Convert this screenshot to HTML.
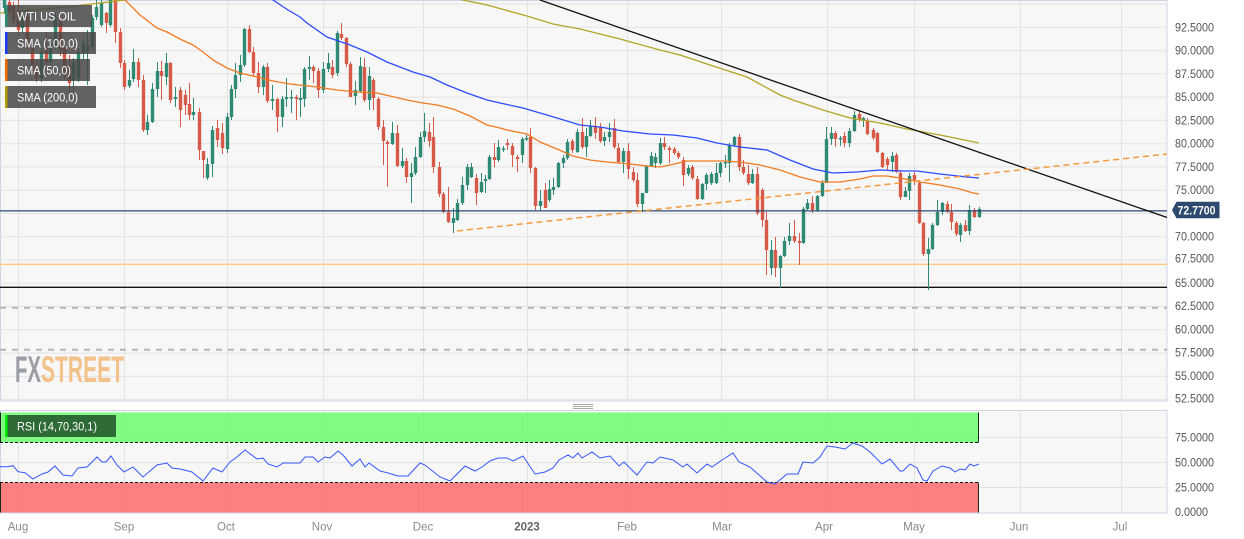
<!DOCTYPE html>
<html><head><meta charset="utf-8"><style>
html,body{margin:0;padding:0;background:#fff;width:1244px;height:539px;overflow:hidden}
svg{display:block;font-family:"Liberation Sans",sans-serif}
</style></head><body>
<svg width="1244" height="539" viewBox="0 0 1244 539" xmlns="http://www.w3.org/2000/svg">
<defs>
<clipPath id="cm"><rect x="0" y="0" width="1167" height="401"/></clipPath>
<clipPath id="cr"><rect x="0" y="410" width="1167" height="103"/></clipPath>
</defs>
<rect x="0" y="0" width="1244" height="539" fill="#fff"/>
<!-- main panel -->
<rect x="0.5" y="0.5" width="1166.5" height="400.5" fill="#f7f7f7" stroke="#d0d3e4"/>
<g stroke="#e3e3e3" stroke-width="1">
<path d="M0 4H1167M0 27.3H1167M0 50.6H1167M0 73.8H1167M0 97.1H1167M0 120.4H1167M0 143.7H1167M0 166.9H1167M0 190.2H1167M0 213.5H1167M0 236.7H1167M0 260H1167M0 283.3H1167M0 306.5H1167M0 329.8H1167M0 353.1H1167M0 376.4H1167M0 399.6H1167"/>
<path d="M18.5 0V401M124.5 0V401M227.5 0V401M323.5 0V401M423.5 0V401M527.5 0V401M627.5 0V401M721.5 0V401M827.5 0V401M914.5 0V401M1020.5 0V401M1121.5 0V401"/>
</g>
<!-- logo -->
<text x="15" y="382" font-size="37.5" font-weight="bold" fill="#9b9ea6" textLength="26" lengthAdjust="spacingAndGlyphs">FX</text>
<text x="41" y="382" font-size="37.5" font-weight="bold" fill="#f3c18a" textLength="83" lengthAdjust="spacingAndGlyphs">STREET</text>
<g clip-path="url(#cm)">
<!-- horizontal levels -->
<path d="M0 264.3H1167" stroke="#ffcb7a" stroke-width="1.3"/>
<path d="M0 287.3H1167" stroke="#111" stroke-width="1.3"/>
<path d="M0 307.7H1167M0 349.7H1167" stroke="#b5b5b5" stroke-width="2" stroke-dasharray="6 6"/>
<!-- candles green -->
<path fill="none" stroke="#2f8a73" stroke-width="1" d="M4.5 0V14M22.5 8V33M41.5 48V82M50.5 36V70M55.5 12V50M73.5 58V93M78.5 48V82M83.5 38V60M87.5 30V85M92.5 15V50M96.5 0V20M101.5 0V27M110.5 0V27M129.5 70V88M133.5 49V82M147.5 115V135M152.5 83V123M157.5 62V97M166.5 53V85M175.5 87V107M193.5 98V120M207.5 158V180M212.5 126V177M227.5 113V153M231.5 85V120M235.5 63V98M240.5 55V82M244.5 28V67M263.5 65V95M272.5 85V110M282.5 96V127M286.5 78V107M291.5 90V113M300.5 88V117M304.5 67V107M309.5 56V80M323.5 62V93M328.5 53V72M337.5 31V76M355.5 81V105M360.5 57V93M369.5 67V110M392.5 122V145M402.5 148V168M411.5 163V203M415.5 147V175M420.5 132V158M424.5 113V142M453.5 208V233M457.5 199V221M462.5 177V205M467.5 164V190M471.5 163V178M481.5 173V193M485.5 175V193M489.5 155V180M498.5 140V162M503.5 146V152M522.5 137V163M526.5 135V141M540.5 190V211M549.5 180V202M553.5 178V195M558.5 162V188M563.5 155V168M567.5 139V160M577.5 129V153M586.5 128V157M590.5 120V137M604.5 132V146M609.5 123V142M623.5 148V173M642.5 193V212M646.5 165V193M651.5 152V167M655.5 153V168M660.5 138V165M688.5 165V176M702.5 183V200M706.5 173V190M711.5 172V185M716.5 163V184M720.5 162V177M725.5 155V168M729.5 143V182M734.5 136V147M752.5 169V184M771.5 240V275M780.5 255V288M784.5 237V257M789.5 223V245M803.5 207V244M807.5 199V210M817.5 195V212M822.5 180V197M826.5 127V183M831.5 127V145M840.5 136V146M849.5 128V147M854.5 111V132M863.5 117V127M892.5 152V172M905.5 187V197M909.5 173V200M928.5 238V290M932.5 223V250M937.5 200V226M942.5 202V215M960.5 223V242M969.5 205V235M979.5 207V218"/>
<path fill="none" stroke="#2f8a73" stroke-width="3.4" d="M4.5 0V8M22.5 14V28M41.5 52V78M50.5 43V62M55.5 17V45M73.5 62V80M78.5 52V79M83.5 43V53M87.5 45V52M92.5 18V47M96.5 7V17M101.5 3V25M110.5 0V25M129.5 80V86M133.5 62V79M147.5 122V130M152.5 89V122M157.5 71V89M166.5 63V77M175.5 97V99M193.5 112V115M207.5 164V178M212.5 130V164M227.5 117V149M231.5 89V117M235.5 75V89M240.5 65V75M244.5 29V65M263.5 67V87M272.5 99V101M282.5 99V117M286.5 97V99M291.5 97V98.5M300.5 98V100M304.5 69V99M309.5 67V69M323.5 69V90M328.5 63V69M337.5 33V73M355.5 90V96M360.5 66V91M369.5 76V100M392.5 133V144M402.5 161V166M411.5 173V177M415.5 157V173M420.5 137V157M424.5 131V137M453.5 218V223M457.5 203V220M462.5 185V203M467.5 167V185M471.5 167V177M481.5 182V192M485.5 179V181M489.5 157V179M498.5 147V160M503.5 148.5V150M522.5 139V155M526.5 138V139.5M540.5 201V206M549.5 189V200M553.5 187V190M558.5 163V187M563.5 158V163M567.5 142V158M577.5 132V152M586.5 136V147M590.5 126V136M604.5 137V141M609.5 132V137M623.5 151V162M642.5 193V204M646.5 166V193M651.5 156V166M655.5 157V163M660.5 143V163M688.5 168V174M702.5 184V199M706.5 175V184M711.5 174V183M716.5 173V183M720.5 163V173M725.5 162V163.5M729.5 145V163M734.5 137V145M752.5 174V183M771.5 250V268M780.5 256V268M784.5 241V256M789.5 236V241M803.5 209V243M807.5 203V209M817.5 196V210M822.5 183V196M826.5 139V183M831.5 133V139M840.5 138V139.5M849.5 131V143M854.5 115V131M863.5 118V121M892.5 156V162M905.5 191V197M909.5 176V191M928.5 249V254M932.5 225V249M937.5 212V225M942.5 203V212M960.5 225V235M969.5 210V231M979.5 209V217"/>
<!-- candles red -->
<path fill="none" stroke="#d65a47" stroke-width="1" d="M9.5 0V16M13.5 2V24M18.5 0V35M27.5 10V50M32.5 40V74M36.5 60V82M46.5 32V68M60.5 15V56M64.5 42V80M69.5 55V92M106.5 12V33M115.5 0V43M120.5 28V68M124.5 60V90M138.5 58V87M143.5 75V132M161.5 61V100M170.5 62V103M180.5 87V127M185.5 90V115M189.5 83V120M199.5 108V160M203.5 151V178M217.5 120V147M222.5 123V154M249.5 25V53M253.5 47V77M258.5 62V93M267.5 63V103M277.5 98V132M296.5 95V120M313.5 65V83M318.5 68V98M332.5 60V78M341.5 23V40M346.5 37V67M350.5 62V97M364.5 58V102M373.5 78V110M378.5 97V130M383.5 120V165M387.5 140V187M397.5 125V167M406.5 158V183M429.5 123V147M433.5 117V173M439.5 162V197M443.5 192V213M448.5 187V223M476.5 174V205M494.5 143V167M507.5 139V150M512.5 143V167M517.5 155V172M530.5 128V173M535.5 167V210M545.5 183V208M572.5 139V153M582.5 118V149M595.5 117V139M600.5 123V143M614.5 119V149M618.5 143V163M628.5 143V179M633.5 167V182M637.5 173V207M664.5 137V150M669.5 146V163M674.5 147V155M678.5 151V159M683.5 157V186M692.5 165V180M697.5 176V200M739.5 134V171M743.5 160V175M748.5 165V185M757.5 167V215M762.5 188V227M766.5 212V275M775.5 237V277M794.5 220V243M799.5 233V265M812.5 196V213M835.5 131V147M844.5 132V147M859.5 111V122M867.5 118V135M873.5 128V140M877.5 132V153M882.5 152V168M887.5 157V170M896.5 153V173M900.5 170V200M914.5 172V185M919.5 181V224M923.5 222V256M947.5 201V213M951.5 204V230M956.5 221V236M965.5 220V232M974.5 208V218"/>
<path fill="none" stroke="#d65a47" stroke-width="3.4" d="M9.5 2V12M13.5 6V20M18.5 12V30M27.5 16V45M32.5 45V70M36.5 66V78M46.5 48V62M60.5 20V50M64.5 48V76M69.5 65V83M106.5 13V23M115.5 0V32M120.5 32V63M124.5 63V87M138.5 62V80M143.5 80V130M161.5 71V76M170.5 63V100M180.5 90V110M185.5 95V105M189.5 104V115M199.5 112V150M203.5 151V160M217.5 128V140M222.5 133V148M249.5 29V52M253.5 52V73M258.5 73V87M267.5 67V101M277.5 99V117M296.5 97V99M313.5 67V71M318.5 71V90M332.5 67V75M341.5 34V38M346.5 38V64M350.5 64V97M364.5 67V100M373.5 80V98M378.5 99V127M383.5 127V141M387.5 142V144M397.5 133V166M406.5 161V177M429.5 132V141M433.5 137V167M439.5 167V194M443.5 194V212M448.5 212V222M476.5 178V193M494.5 157V160M507.5 143V145M512.5 146V155M517.5 157V159M530.5 137V168M535.5 168V206M545.5 190V208M572.5 141V150M582.5 132V147M595.5 127V133M600.5 127V141M614.5 128V147M618.5 148V162M628.5 151V169M633.5 172V180M637.5 180V204M664.5 143V147M669.5 148V150M674.5 149V153M678.5 153V157M683.5 160V175M692.5 167V178M697.5 179V199M739.5 137V167M743.5 167V173M748.5 174V183M757.5 174V213M762.5 190V220M766.5 220V250M775.5 250V268M794.5 236V241M799.5 241V243M812.5 203V210M835.5 133V139M844.5 136V143M859.5 114V120M867.5 121V134M873.5 130V138M877.5 133V152M882.5 153V167M887.5 159V165M896.5 155V172M900.5 173V197M914.5 175V180M919.5 183V223M923.5 223V254M947.5 204V212M951.5 212V222M956.5 223V234M965.5 225V231M974.5 210V217"/>
<!-- price line -->
<path d="M0 210.9H1167" stroke="#2c4874" stroke-width="1.3"/>
<!-- SMA lines -->
<polyline fill="none" stroke="#b3a424" stroke-width="1.3" points="0,13 33,10 67,7 100,3 125,0 160,-8"/>
<polyline fill="none" stroke="#b3a424" stroke-width="1.3" points="440,-6 463,0 487,5 527,16 553,24 580,29 620,39 660,50 680,55 713,66 747,77 780,95 793,100 823,110 850,118 880,123 907,129 940,135 979,143"/>
<polyline fill="none" stroke="#2b4cff" stroke-width="1.3" points="265,-5 273,0 288,10 300,17 307,23 327,37 350,45 367,52 387,62 413,72 430,77 447,85 467,93 487,100 500,103 523,108 557,118 580,125 600,127 623,131 650,134 673,135 697,138 717,143 740,147 767,150 790,160 813,169 833,173 857,172 880,170 900,171 917,171 940,174 967,177 979,178"/>
<polyline fill="none" stroke="#f27a1f" stroke-width="1.3" points="118,-7 125,0 140,15 157,28 167,32 180,39 193,45 203,52 213,60 227,68 240,73 253,76 273,81 290,84 317,87 337,90 357,92 377,93 390,96 407,100 423,103 437,105 453,109 470,116 487,125 500,128 507,130 527,134 540,142 557,149 573,156 590,160 607,162 630,164 647,166 660,167 670,165 687,161 707,161 723,161 740,162 760,165 780,170 800,177 820,182 840,182 860,179 873,176 887,176 900,178 920,182 940,185 960,189 973,193 979,194"/>
<!-- trendlines -->
<path d="M540 0L1167 217.5" stroke="#111" stroke-width="1.3"/>
<path d="M457 231L1167 154" stroke="#f79a3e" stroke-width="1.5" stroke-dasharray="6 4"/>
</g>
<!-- legends -->
<rect x="5" y="5" width="87" height="22" fill="rgba(72,72,72,0.85)"/>
<rect x="5" y="5" width="2.5" height="22" fill="#2f8a73"/>
<text x="17" y="20.5" font-size="11.5" fill="#fff" textLength="59" lengthAdjust="spacingAndGlyphs">WTI US OIL</text>
<rect x="5" y="32" width="91" height="22" fill="rgba(72,72,72,0.85)"/>
<rect x="5" y="32" width="2.5" height="22" fill="#1a3cff"/>
<text x="17" y="47.5" font-size="11.5" fill="#fff" textLength="61" lengthAdjust="spacingAndGlyphs">SMA (100,0)</text>
<rect x="5" y="59" width="85" height="22" fill="rgba(72,72,72,0.85)"/>
<rect x="5" y="59" width="2.5" height="22" fill="#f06a00"/>
<text x="17" y="74.5" font-size="11.5" fill="#fff" textLength="54" lengthAdjust="spacingAndGlyphs">SMA (50,0)</text>
<rect x="5" y="86" width="91" height="22" fill="rgba(72,72,72,0.85)"/>
<rect x="5" y="86" width="2.5" height="22" fill="#b09a00"/>
<text x="17" y="101.5" font-size="11.5" fill="#fff" textLength="61" lengthAdjust="spacingAndGlyphs">SMA (200,0)</text>
<!-- separator handle -->
<path d="M573 404.5H593M573 406.5H593M573 408.5H593" stroke="#8a8a8a" stroke-width="0.8"/>
<!-- RSI panel -->
<rect x="0.5" y="410.5" width="1166.5" height="102.5" fill="#f7f7f7" stroke="#d0d3e4"/>
<g stroke="#e3e3e3" stroke-width="1">
<path d="M0 437.5H1167M0 462.5H1167M0 487.5H1167"/>
<path d="M18.5 411V513M124.5 411V513M227.5 411V513M323.5 411V513M423.5 411V513M527.5 411V513M627.5 411V513M721.5 411V513M827.5 411V513M914.5 411V513M1020.5 411V513M1121.5 411V513"/>
</g>
<g clip-path="url(#cr)">
<rect x="0" y="412.5" width="979" height="30" fill="#6cfb6c" fill-opacity="0.85"/>
<rect x="0" y="482.5" width="979" height="30" fill="#fd6b6b" fill-opacity="0.85"/>
<path d="M0.5 412.5V442.5M978.5 412.5V442.5M0.5 482.5V512.5M978.5 482.5V512.5" stroke="#1a2a1a" stroke-width="1"/>
<path d="M0 442.5H979M0 482.5H979" stroke="#111" stroke-width="1" stroke-dasharray="3 2"/>
<polyline fill="none" stroke="#3355ff" stroke-width="1" points="0,466.7 7,466.7 13,465.7 18,471.7 25,472.7 33,479 42,474 48,472 55,466 63,475 72,476 78,468 87,467 97,457 102,462 106,462 111,456 117,465 124,472 133,467 143,477 157,465 167,463 172,468 180,469 192,472 203,481 213,468 222,472 230,462 237,457 245,450 257,459 263,458 268,464 277,467 283,463 300,463 305,457 313,457 318,462 325,457 330,458 338,451 343,455 352,466 360,459 365,467 369,463 380,471 388,473 398,476 408,476 420,463 425,465 440,477 450,481 465,466 475,471 482,467 490,461 498,458 507,458 513,461 523,456 535,474 545,472 553,468 559,460 568,455 573,458 578,453 582,458 592,452 600,458 610,456 619,466 624,462 637,475 647,462 653,463 660,457 673,460 683,467 687,464 697,473 707,464 712,467 722,460 733,453 739,462 750,467 767,482 775,484 787,474 798,474 803,462 813,463 820,457 827,446 835,447 845,449 853,443 862,446 870,452 882,464 890,459 900,471 903,471 910,464 917,468 923,480 927,481 933,471 942,466 950,468 955,472 960,469 965,470 970,464 974,466 979,464"/>
</g>
<rect x="5" y="415" width="111" height="22" fill="#2e6a36"/>
<rect x="5" y="415" width="2.5" height="22" fill="#00ee00"/>
<text x="17" y="430.5" font-size="11.5" fill="#fff" textLength="80" lengthAdjust="spacingAndGlyphs">RSI (14,70,30,1)</text>
<!-- right axis labels -->
<g font-size="11.5" fill="#555">
<text x="1175" y="31.3" textLength="39" lengthAdjust="spacingAndGlyphs">92.5000</text>
<text x="1175" y="54.6" textLength="39" lengthAdjust="spacingAndGlyphs">90.0000</text>
<text x="1175" y="77.8" textLength="39" lengthAdjust="spacingAndGlyphs">87.5000</text>
<text x="1175" y="101.1" textLength="39" lengthAdjust="spacingAndGlyphs">85.0000</text>
<text x="1175" y="124.4" textLength="39" lengthAdjust="spacingAndGlyphs">82.5000</text>
<text x="1175" y="147.7" textLength="39" lengthAdjust="spacingAndGlyphs">80.0000</text>
<text x="1175" y="170.9" textLength="39" lengthAdjust="spacingAndGlyphs">77.5000</text>
<text x="1175" y="194.2" textLength="39" lengthAdjust="spacingAndGlyphs">75.0000</text>
<text x="1175" y="240.7" textLength="39" lengthAdjust="spacingAndGlyphs">70.0000</text>
<text x="1175" y="262.5" textLength="39" lengthAdjust="spacingAndGlyphs">67.5000</text>
<text x="1175" y="287" textLength="39" lengthAdjust="spacingAndGlyphs">65.0000</text>
<text x="1175" y="310" textLength="39" lengthAdjust="spacingAndGlyphs">62.5000</text>
<text x="1175" y="333.3" textLength="39" lengthAdjust="spacingAndGlyphs">60.0000</text>
<text x="1175" y="356.6" textLength="39" lengthAdjust="spacingAndGlyphs">57.5000</text>
<text x="1175" y="379.9" textLength="39" lengthAdjust="spacingAndGlyphs">55.0000</text>
<text x="1175" y="402.3" textLength="39" lengthAdjust="spacingAndGlyphs">52.5000</text>
<text x="1175" y="441.3" textLength="39" lengthAdjust="spacingAndGlyphs">75.0000</text>
<text x="1175" y="466.3" textLength="39" lengthAdjust="spacingAndGlyphs">50.0000</text>
<text x="1175" y="491.3" textLength="39" lengthAdjust="spacingAndGlyphs">25.0000</text>
<text x="1175" y="516" textLength="33" lengthAdjust="spacingAndGlyphs">0.0000</text>
</g>
<!-- price tag -->
<path d="M1172 210L1176.5 201.7H1219.5V218.3H1176.5Z" fill="#2d4a6e"/>
<text x="1177.5" y="214.5" font-size="11.5" font-weight="bold" fill="#fff" textLength="38" lengthAdjust="spacingAndGlyphs">72.7700</text>
<!-- x axis labels -->
<g font-size="11.5" fill="#8a8a8a" text-anchor="middle">
<text x="18" y="530.5">Aug</text>
<text x="124" y="530.5">Sep</text>
<text x="226" y="530.5">Oct</text>
<text x="322" y="530.5">Nov</text>
<text x="423" y="530.5">Dec</text>
<text x="527" y="530.5" font-weight="bold" fill="#666">2023</text>
<text x="627" y="530.5">Feb</text>
<text x="722" y="530.5">Mar</text>
<text x="824" y="530.5">Apr</text>
<text x="914" y="530.5">May</text>
<text x="1019" y="530.5">Jun</text>
<text x="1120" y="530.5">Jul</text>
</g>
</svg>
</body></html>
